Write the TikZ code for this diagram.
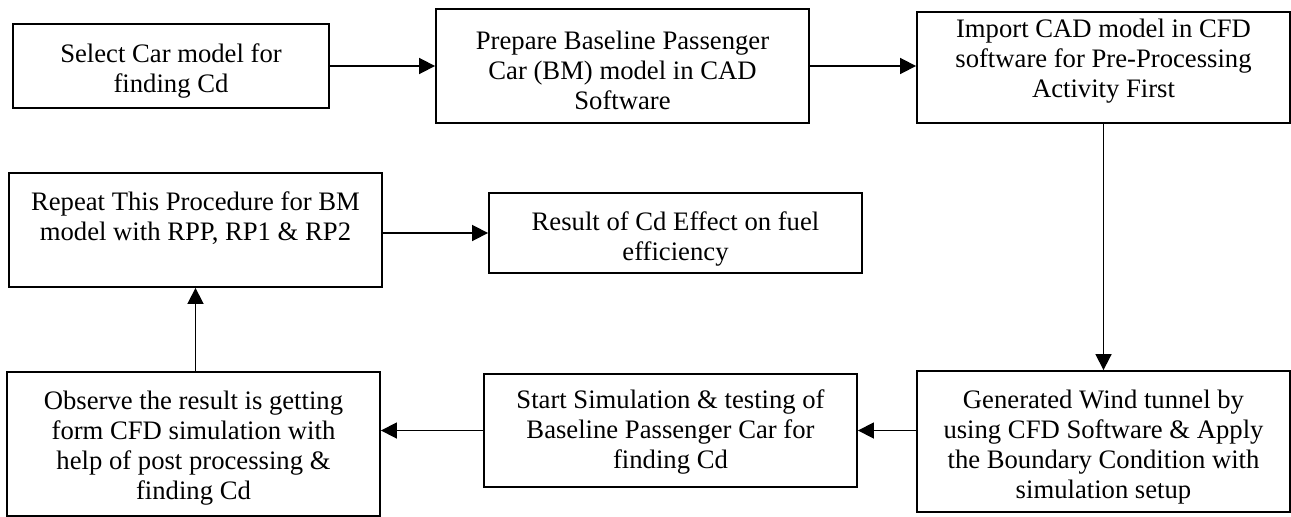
\documentclass[tikz,border=0pt]{standalone}
\usepackage{fontspec}
\setmainfont{Liberation Serif}
\usetikzlibrary{arrows.meta}
\begin{document}
\begin{tikzpicture}[x=0.75pt,y=-0.75pt,
  box/.style={draw=black,line width=1.4pt,rectangle,inner sep=0pt,
    minimum width=279.75pt},
  txt/.style={align=center,inner sep=0pt,font=\fontsize{20}{22.5}\selectfont},
  arr/.style={line width=1.3pt,-{Triangle[length=12pt,width=12pt]}}]
\useasboundingbox (0,0) rectangle (1291,517);
% boxes
\node[box,minimum width=237pt,minimum height=63pt] (b1) at (171,66) {};
\node[box,minimum height=85.5pt] (b2) at (622.5,66) {};
\node[box,minimum height=83.25pt] (b3) at (1103.5,67.5) {};
\node[box,minimum height=85.5pt] (b7) at (195.5,230) {};
\node[box,minimum height=60pt] (b8) at (675.5,233) {};
\node[box,minimum height=105.75pt] (b4) at (1103.5,441.5) {};
\node[box,minimum height=84.75pt] (b5) at (670.5,430.5) {};
\node[box,minimum height=108pt] (b6) at (193.5,444) {};
% texts
\node[txt] (t1) at (171,71) {Select Car model for\\finding Cd};
\node[txt] (t2) at (622.5,70.5)
  {Prepare Baseline Passenger\\Car (BM) model in CAD\\Software};
\node[txt] (t3) at (1103.5,61)
  {Import CAD model in CFD\\software for Pre-Processing\\Activity First};
\node[txt] (t7) at (195.5,218)
  {Repeat This Procedure for BM\\model with RPP, RP1 \& RP2};
\node[txt] (t8) at (675.5,239) {Result of Cd Effect on fuel\\efficiency};
\node[txt] (t4) at (1103.5,447)
  {Generated Wind tunnel by\\using CFD Software \& Apply\\the Boundary Condition with\\simulation setup};
\node[txt] (t5) at (670.5,432)
  {Start Simulation \& testing of\\Baseline Passenger Car for\\finding Cd};
\node[txt] (t6) at (193.5,448)
  {Observe the result is getting\\form CFD simulation with\\help of post processing \&\\finding Cd};
% connectors
\draw[arr] (b1.east) -- (b1.east -| b2.west);
\draw[arr] (b2.east) -- (b2.east -| b3.west);
\draw[arr] (b3.south) -- (b4.north);
\draw[arr] (b5.east -| b4.west) -- (b5.east);
\draw[arr] (b5.west) -- (b5.west -| b6.east);
\draw[arr] (b6.north -| b7.south) -- (b7.south);
\draw[arr] (b8.west -| b7.east) -- (b8.west);
\end{tikzpicture}
\end{document}
